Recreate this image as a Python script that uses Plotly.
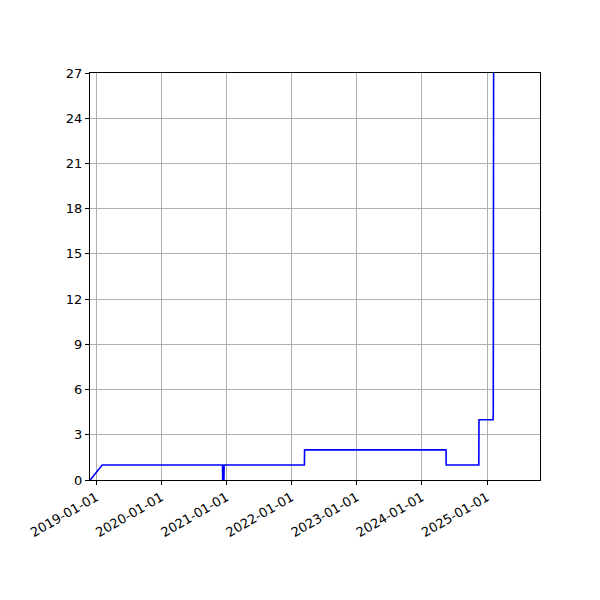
import plotly.graph_objects as go

dates = [
    "2018-11-29", "2019-02-04",
    "2020-12-10", "2020-12-11", "2020-12-18", "2020-12-19",
    "2022-03-14", "2022-03-15",
    "2024-05-16", "2024-05-17",
    "2024-11-16", "2024-11-17",
    "2025-02-04", "2025-02-05", "2025-02-08",
]
values = [0, 1, 1, 0, 0, 1, 1, 2, 2, 1, 1, 4, 4, 4.5, 40]

tick_dates = ["2019-01-01", "2020-01-01", "2021-01-01", "2022-01-01",
              "2023-01-01", "2024-01-01", "2025-01-01"]
y_ticks = [0, 3, 6, 9, 12, 15, 18, 21, 24, 27]

fig = go.Figure()
fig.add_trace(go.Scatter(x=dates, y=values, mode="lines",
                         line=dict(color="#0000ff", width=1.6),
                         showlegend=False, hoverinfo="skip"))

fig.update_layout(
    width=600, height=600,
    margin=dict(l=82, r=68, t=65, b=128),
    plot_bgcolor="white", paper_bgcolor="white",
    font=dict(family="DejaVu Sans", size=13, color="black"),
)
fig.update_xaxes(
    type="date", range=["2018-11-28", "2025-10-25"],
    tickvals=tick_dates, ticktext=tick_dates, tickangle=-30,
    showgrid=True, gridcolor="#b0b0b0", gridwidth=1,
    showline=True, linecolor="black", linewidth=1, mirror=True,
    ticks="outside", ticklen=4, tickcolor="black", zeroline=False,
)
fig.update_yaxes(
    range=[0, 27], tickvals=y_ticks,
    showgrid=True, gridcolor="#b0b0b0", gridwidth=1,
    showline=True, linecolor="black", linewidth=1, mirror=True,
    ticks="outside", ticklen=4, tickcolor="black", zeroline=False,
)
fig.write_html("out.html")
